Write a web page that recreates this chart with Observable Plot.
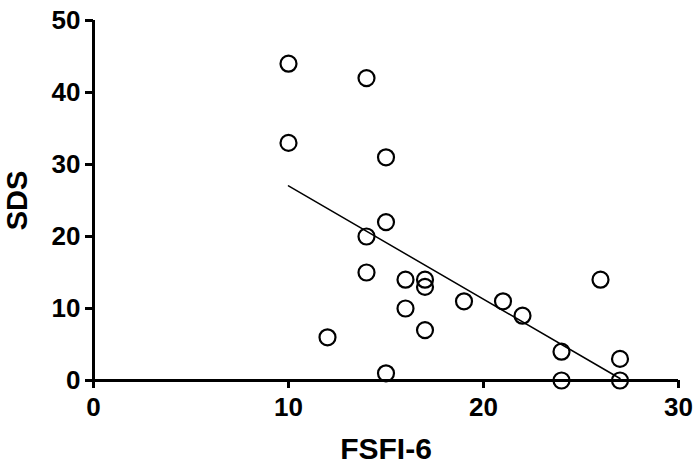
<!DOCTYPE html>
<html>
<head>
<meta charset="utf-8">
<script src="https://cdn.jsdelivr.net/npm/d3@7"></script>
<script src="https://cdn.jsdelivr.net/npm/@observablehq/plot@0.6"></script>
<style>
  html, body { margin: 0; padding: 0; background: #fff; }
  svg { display: block; }
</style>
</head>
<body>
<div id="chart"></div>
<script>
// FSFI-6 (x) vs SDS (y)
const fsfi = [10, 10, 14, 15, 15, 14, 14, 16, 17, 17, 16, 17, 12, 15, 19, 21, 22, 24, 24, 26, 27, 27];
const sds  = [44, 33, 42, 31, 22, 20, 15, 14, 14, 13, 10, 7, 6, 1, 11, 11, 9, 4, 0, 14, 3, 0];
const xTicks = [0, 10, 20, 30];
const yTicks = [0, 10, 20, 30, 40, 50];
const xLabel = "FSFI-6";
const yLabel = "SDS";

const data = fsfi.map((x, i) => ({x, y: sds[i]}));
const font = "'Liberation Sans', Arial, sans-serif";

const chart = Plot.plot({
  width: 696,
  height: 466,
  marginLeft: 93,
  marginRight: 18,
  marginTop: 20,
  marginBottom: 86,
  style: {fontFamily: font, fontWeight: "bold", fontSize: "26px", color: "#000", background: "#fff"},
  x: {domain: [0, 30]},
  y: {domain: [0, 50]},
  marks: [
    Plot.axisX({ticks: xTicks, tickSize: 8, tickPadding: 9, strokeWidth: 3, label: null, fontSize: 26, fontWeight: "bold"}),
    Plot.axisY({ticks: yTicks, tickSize: 8, tickPadding: 5, strokeWidth: 3, label: null, fontSize: 26, fontWeight: "bold"}),
    Plot.ruleY([0], {strokeWidth: 3, stroke: "#000"}),
    Plot.ruleX([0], {strokeWidth: 3, stroke: "#000"}),
    Plot.linearRegressionY(data, {x: "x", y: "y", ci: 0, stroke: "#000", strokeWidth: 1.5}),
    Plot.dot(data, {x: "x", y: "y", r: 8, stroke: "#000", strokeWidth: 2.2, fill: "none"}),
    Plot.text([xLabel], {frameAnchor: "bottom", lineAnchor: "middle", textAnchor: "middle", dy: 69, fontSize: 30, fontWeight: "bold", fill: "#000"}),
    Plot.text([yLabel], {frameAnchor: "left", lineAnchor: "middle", textAnchor: "middle", dx: -76, rotate: -90, fontSize: 29, fontWeight: "bold", fill: "#000"})
  ]
});
document.getElementById("chart").appendChild(chart);
</script>
</body>
</html>
